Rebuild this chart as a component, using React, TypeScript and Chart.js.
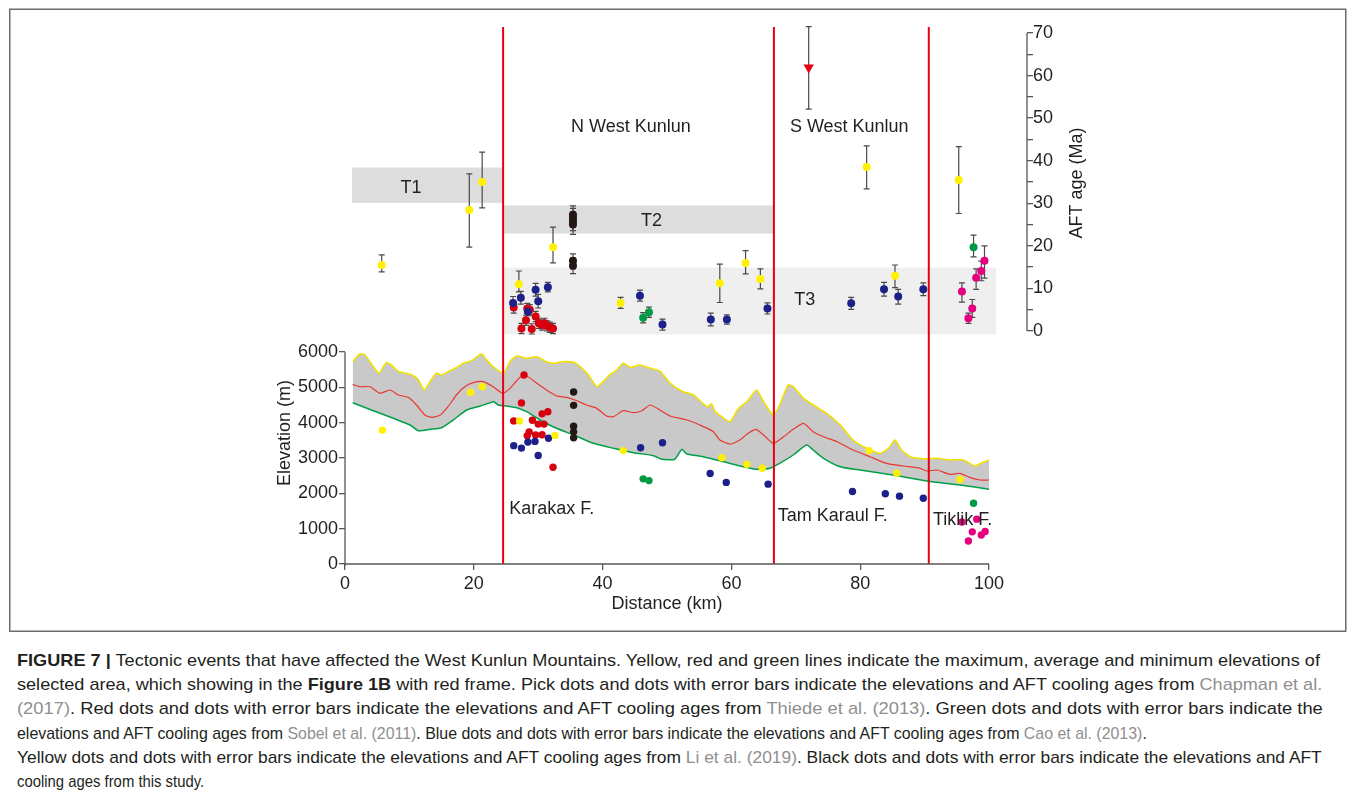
import React, { useEffect, useLayoutEffect, useRef } from 'react';
import { Chart, registerables } from 'chart.js';
Chart.register(...registerables);

const FONT = '"Liberation Sans", Arial, Helvetica, sans-serif';

// ---------- axis ticks ----------
const distanceTicks = [0, 20, 40, 60, 80, 100];
const elevationTicks = [0, 1000, 2000, 3000, 4000, 5000, 6000];
const ageTicks = [0, 5, 10, 15, 20, 25, 30, 35, 40, 45, 50, 55, 60, 65, 70];

// ---------- elevation profiles (km, m) ----------
const maxProfileKm = [1.2, 2.3, 3.1, 4.4, 5.3, 6.4, 7.2, 8.3, 9.1, 10.4, 11.4, 12.3, 13.2, 14.2, 15.0, 16.0, 17.1, 18.4, 19.7, 20.5, 21.2, 22.0, 23.0, 24.6, 25.6, 26.7, 28.2, 29.8, 31.3, 32.6, 33.6, 35.5, 36.5, 37.8, 39.1, 40.1, 41.1, 42.2, 43.2, 44.3, 45.8, 47.4, 48.9, 50.5, 52.5, 54.1, 56.2, 56.9, 57.5, 58.5, 59.8, 61.1, 62.4, 63.9, 65.0, 66.5, 67.5, 68.8, 69.6, 71.2, 72.7, 74.8, 76.9, 78.9, 81.0, 83.1, 84.4, 85.4, 86.4, 88.0, 90.3, 91.9, 93.9, 96.0, 97.8, 98.9, 100];
const maxProfileElev = [5725, 5943, 5915, 5584, 5397, 5697, 5632, 5443, 5415, 5350, 5208, 4925, 5160, 5397, 5350, 5443, 5538, 5680, 5755, 5867, 5943, 5773, 5584, 5397, 5725, 5886, 5820, 5867, 5725, 5680, 5725, 5708, 5584, 5350, 5018, 5160, 5350, 5490, 5680, 5566, 5632, 5538, 5460, 5113, 4877, 4783, 4452, 4528, 4310, 4169, 4027, 4405, 4593, 4925, 4593, 4217, 4500, 5066, 5018, 4689, 4500, 4264, 3934, 3509, 3274, 3132, 3274, 3509, 3226, 3019, 2972, 2991, 2943, 2943, 2773, 2867, 2943];

const meanProfileKm = [1.2, 2.3, 3.9, 5.4, 7.0, 8.3, 9.8, 11.1, 12.4, 13.5, 14.8, 16.0, 17.3, 18.6, 19.9, 21.5, 23.0, 24.5, 25.6, 27.2, 28.2, 29.8, 31.3, 32.9, 34.4, 36.0, 37.5, 39.1, 40.6, 41.7, 43.2, 44.8, 46.1, 47.4, 48.9, 50.5, 53.1, 55.1, 57.2, 58.2, 59.8, 61.3, 62.6, 63.8, 65.0, 66.5, 68.1, 69.6, 71.2, 72.7, 74.3, 76.4, 78.9, 81.5, 84.1, 86.7, 89.3, 90.3, 91.9, 93.9, 95.5, 97.0, 98.6, 100];
const meanProfileElev = [5085, 5018, 5018, 4830, 4925, 4783, 4717, 4500, 4217, 4151, 4217, 4452, 4783, 5018, 5131, 5160, 5018, 4830, 4972, 5283, 5320, 5113, 4925, 4754, 4717, 4622, 4500, 4405, 4188, 4169, 4339, 4282, 4339, 4500, 4358, 4188, 4075, 3934, 3745, 3509, 3396, 3509, 3698, 3811, 3651, 3415, 3603, 3811, 3981, 3745, 3603, 3462, 3226, 3037, 2849, 2773, 2708, 2632, 2660, 2538, 2567, 2453, 2377, 2377];

const minProfileKm = [1.2, 4.4, 7.5, 10.1, 11.4, 13.2, 15.0, 16.8, 18.9, 21.0, 22.3, 23.1, 23.8, 25.1, 26.7, 28.2, 30.3, 32.3, 35.5, 38.6, 41.7, 44.8, 47.9, 49.2, 51.2, 52.3, 53.1, 55.6, 58.2, 61.3, 63.9, 66.0, 67.5, 69.6, 71.7, 72.7, 74.3, 76.9, 80.0, 85.1, 90.3, 95.5, 100];
const minProfileElev = [4565, 4339, 4123, 3934, 3773, 3811, 3858, 4075, 4358, 4471, 4548, 4593, 4500, 4471, 4423, 4310, 4075, 3886, 3651, 3415, 3274, 3150, 3065, 2963, 2963, 3245, 3113, 3037, 2924, 2773, 2679, 2708, 2849, 3085, 3368, 3226, 2991, 2754, 2660, 2519, 2349, 2236, 2114];

// ---------- AFT ages: [km, age, lower, upper] (Ma) ----------
const liAges = [[5.7, 15.5, 13.9, 17.9], [19.3, 28.4, 19.7, 36.9], [21.3, 35.0, 28.9, 42.0], [32.3, 19.7, 16.0, 24.4], [27.0, 11.0, 9.2, 14.1], [42.8, 6.6, 5.3, 7.9], [58.2, 11.2, 6.7, 15.7], [62.2, 16.0, 13.4, 18.9], [64.5, 12.2, 9.9, 14.6], [85.4, 13.0, 10.2, 15.5], [81.0, 38.5, 33.4, 43.5], [95.3, 35.5, 27.6, 43.3]];
const caoAges = [[28.4, 4.6, 3.6, 5.6], [27.3, 7.8, 6.3, 9.3], [26.1, 6.6, 5.1, 8.1], [29.6, 9.7, 8.2, 11.2], [30.0, 7.0, 5.4, 8.6], [31.5, 10.3, 9.2, 11.4], [45.8, 8.3, 7.0, 9.6], [49.3, 1.5, 0.2, 2.8], [56.8, 2.7, 1.2, 4.2], [59.3, 2.7, 1.6, 3.8], [65.6, 5.3, 4.0, 6.6], [78.6, 6.5, 5.1, 7.9], [83.7, 9.8, 8.2, 11.4], [85.9, 8.1, 6.3, 9.8], [89.8, 9.8, 8.3, 11.3]];
const thiedeAges = [[26.2, 5.5, 4.2, 6.8], [28.3, 5.3, 4.1, 6.5], [28.7, 5.0, 3.8, 6.2], [29.6, 3.4, 2.2, 4.6], [28.1, 2.5, 1.3, 3.7], [27.4, 0.6, -0.6, 1.8], [29.0, 0.5, -0.7, 1.7], [30.1, 1.8, 0.6, 3.0], [30.6, 1.4, 0.2, 2.6], [31.0, 1.8, 0.6, 3.0], [31.4, 1.2, 0.0, 2.4], [31.8, 0.9, -0.3, 2.1], [32.3, 0.6, -0.6, 1.8]];
const thiedeTriangleAges = [[72.0, 61.9, 52.1, 71.5]];
const sobelAges = [[47.2, 4.4, 3.2, 5.6], [46.3, 3.1, 1.9, 4.3], [97.6, 19.7, 17.4, 22.5]];
const chapmanAges = [[95.8, 9.3, 6.8, 11.3], [96.8, 3.0, 1.8, 4.2], [97.4, 5.3, 3.2, 7.4], [98.0, 12.5, 9.8, 14.6], [98.8, 14.1, 11.8, 16.4], [99.3, 16.5, 12.4, 20.0]];
const thisStudyAges = [[35.4, 27.3, 25.1, 29.4], [35.4, 26.6, 24.4, 28.8], [35.4, 25.8, 23.6, 28.0], [35.4, 25.0, 22.7, 27.2], [35.4, 16.5, 14.6, 18.1], [35.4, 15.3, 13.5, 17.2]];

// ---------- sample elevations: [km, m] ----------
const liElev = [[5.8, 3790], [19.5, 4860], [21.3, 5020], [27.1, 4050], [32.6, 3640], [43.2, 3210], [58.5, 3010], [62.4, 2820], [64.8, 2710], [81.4, 3210], [85.7, 2570], [95.5, 2390]];
const thiedeElev = [[27.8, 5350], [27.4, 4560], [26.2, 4050], [29.1, 4070], [30.0, 3960], [30.9, 3960], [30.6, 4250], [31.5, 4310], [28.6, 3740], [28.3, 3630], [29.6, 3650], [30.6, 3660], [32.3, 2740]];
const caoElev = [[31.6, 3560], [29.5, 3470], [28.4, 3450], [26.2, 3350], [27.4, 3280], [30.0, 3070], [45.9, 3290], [49.3, 3430], [56.7, 2560], [59.2, 2310], [65.7, 2260], [78.8, 2050], [83.9, 1990], [86.1, 1920], [89.8, 1860]];
const sobelElev = [[46.3, 2410], [47.2, 2360], [97.6, 1720]];
const chapmanElev = [[95.8, 1190], [98.1, 1270], [97.4, 910], [96.8, 650], [98.8, 820], [99.4, 920]];
const thisStudyElev = [[35.5, 4870], [35.5, 4490], [35.5, 3900], [35.5, 3740], [35.5, 3570]];

// ---------- faults and time bands ----------
const faultKm = [24.55, 66.6, 90.65];
const bandNames = ['T1', 'T2', 'T3'];
const bandKmFrom = [1.1, 24.55, 24.55];
const bandKmTo = [24.55, 66.6, 101.1];
const bandAgeFrom = [30.1, 22.9, -0.8];
const bandAgeTo = [38.4, 29.5, 14.9];

// ---------- colours ----------
const C_YELLOW = '#fff100';
const C_RED = '#d7000f';
const C_BLUE = '#1d2088';
const C_GREEN = '#009944';
const C_PINK = '#e4007f';
const C_BLACK = '#231815';
const C_TEXT = '#231f20';
const C_AXIS = '#595757';
const C_FAULT = '#e60012';

// ---------- text annotations (placed through scales) ----------
const notes = [
  { text: 'N West Kunlun', x: 44.4, y: 48.0, axis: 'yA', align: 'center' },
  { text: 'S West Kunlun', x: 78.3, y: 48.0, axis: 'yA', align: 'center' },
  { text: 'T1', x: 10.25, y: 33.5, axis: 'yA', align: 'center' },
  { text: 'T2', x: 47.6, y: 25.8, axis: 'yA', align: 'center' },
  { text: 'T3', x: 71.4, y: 7.3, axis: 'yA', align: 'center' },
  { text: 'Karakax F.', x: 25.5, y: 1560, axis: 'yE', align: 'left' },
  { text: 'Tam Karaul F.', x: 67.2, y: 1360, axis: 'yE', align: 'left' },
  { text: 'Tiklik F.', x: 91.3, y: 1245, axis: 'yE', align: 'left' },
];

const ageSet = (rows: number[][], color: string, extra: any = {}) => ({
  type: 'scatter',
  yAxisID: 'yA',
  data: rows.map((r) => ({ x: r[0], y: r[1], lo: r[2], hi: r[3] })),
  backgroundColor: color,
  borderColor: color,
  borderWidth: 0,
  pointRadius: 4,
  order: 0,
  ...extra,
});
const elevSet = (rows: number[][], color: string) => ({
  type: 'scatter',
  yAxisID: 'yE',
  data: rows.map((r) => ({ x: r[0], y: r[1] })),
  backgroundColor: color,
  borderColor: color,
  borderWidth: 0,
  pointRadius: 3.7,
  order: 0,
});
const profile = (km: number[], elev: number[]) => km.map((k, i) => ({ x: k, y: elev[i] }));

const figPlugin = {
  id: 'figPlugin',
  beforeDatasetsDraw(chart: any) {
    const { ctx, scales } = chart;
    const x = scales.x, yA = scales.yA;
    ctx.save();
    bandNames.forEach((_, i) => {
      ctx.fillStyle = i === 2 ? '#efefef' : '#dddddd';
      const x0 = x.getPixelForValue(bandKmFrom[i]);
      const x1 = x.getPixelForValue(bandKmTo[i]);
      const y0 = yA.getPixelForValue(bandAgeTo[i]);
      const y1 = yA.getPixelForValue(bandAgeFrom[i]);
      ctx.fillRect(x0, y0, x1 - x0, y1 - y0);
    });
    ctx.strokeStyle = '#4a4a4a';
    ctx.lineWidth = 1.2;
    chart.data.datasets.forEach((ds: any) => {
      if (ds.yAxisID !== 'yA') return;
      ds.data.forEach((p: any) => {
        if (p.lo == null) return;
        const px = x.getPixelForValue(p.x);
        const ylo = yA.getPixelForValue(p.lo);
        const yhi = yA.getPixelForValue(p.hi);
        ctx.beginPath();
        ctx.moveTo(px, ylo);
        ctx.lineTo(px, yhi);
        ctx.moveTo(px - 3, ylo);
        ctx.lineTo(px + 3, ylo);
        ctx.moveTo(px - 3, yhi);
        ctx.lineTo(px + 3, yhi);
        ctx.stroke();
      });
    });
    ctx.restore();
  },
  afterDatasetsDraw(chart: any) {
    const { ctx, scales, chartArea } = chart;
    const x = scales.x, yA = scales.yA, yE = scales.yE;
    ctx.save();
    ctx.strokeStyle = C_FAULT;
    ctx.lineWidth = 2;
    faultKm.forEach((k) => {
      const px = x.getPixelForValue(k);
      ctx.beginPath();
      ctx.moveTo(px, chartArea.top);
      ctx.lineTo(px, yE.getPixelForValue(0));
      ctx.stroke();
    });
    ctx.strokeStyle = C_AXIS;
    ctx.lineWidth = 1.3;
    const x0 = x.getPixelForValue(0);
    const x100 = x.getPixelForValue(100);
    const e0 = yE.getPixelForValue(0);
    ctx.beginPath();
    ctx.moveTo(x0, e0);
    ctx.lineTo(x100, e0);
    ctx.moveTo(x0, e0 + 2);
    ctx.lineTo(x0, yE.getPixelForValue(6000));
    ctx.moveTo(chartArea.right, yA.getPixelForValue(0));
    ctx.lineTo(chartArea.right, yA.getPixelForValue(70));
    ctx.stroke();
    ctx.fillStyle = C_TEXT;
    ctx.font = `18px ${FONT}`;
    ctx.textBaseline = 'middle';
    notes.forEach((n) => {
      ctx.textAlign = n.align;
      const sc = n.axis === 'yA' ? yA : yE;
      ctx.fillText(n.text, x.getPixelForValue(n.x), sc.getPixelForValue(n.y));
    });
    ctx.textAlign = 'center';
    ctx.fillText('Distance (km)', (x0 + x100) / 2, chartArea.bottom + 40);
    ctx.save();
    ctx.translate(277, 425);
    ctx.rotate(-Math.PI / 2);
    ctx.fillText('Elevation (m)', 0, 0);
    ctx.restore();
    ctx.save();
    ctx.translate(1069, 175);
    ctx.rotate(-Math.PI / 2);
    ctx.fillText('AFT age (Ma)', 0, 0);
    ctx.restore();
    ctx.restore();
  },
  afterDraw(chart: any) {
    const { ctx } = chart;
    ctx.save();
    ctx.strokeStyle = '#6b6b6b';
    ctx.lineWidth = 1.5;
    ctx.strokeRect(1.75, 1.25, 1336, 622);
    ctx.restore();
  },
};

const tickFont = { family: FONT, size: 18 };

function buildConfig(): any {
  const datasets: any[] = [
    ageSet(thiedeTriangleAges, C_FAULT, { pointStyle: 'triangle', rotation: 180, pointRadius: 6 }),
    ageSet(thisStudyAges, C_BLACK),
    ageSet(liAges, C_YELLOW),
    ageSet(caoAges, C_BLUE),
    ageSet(thiedeAges, C_RED),
    ageSet(sobelAges, C_GREEN),
    ageSet(chapmanAges, C_PINK),
    elevSet(thisStudyElev, C_BLACK),
    elevSet(liElev, C_YELLOW),
    elevSet(caoElev, C_BLUE),
    elevSet(thiedeElev, C_RED),
    elevSet(sobelElev, C_GREEN),
    elevSet(chapmanElev, C_PINK),
  ];
  const maxIndex = datasets.length;
  const minIndex = maxIndex + 2;
  datasets.push(
    { type: 'line', yAxisID: 'yE', data: profile(maxProfileKm, maxProfileElev), borderColor: '#f2e100', borderWidth: 1.6, pointRadius: 0, tension: 0.2, fill: { target: minIndex }, backgroundColor: '#c9c9c9', order: 10 },
    { type: 'line', yAxisID: 'yE', data: profile(meanProfileKm, meanProfileElev), borderColor: '#e8382f', borderWidth: 1.2, pointRadius: 0, tension: 0.2, fill: false, order: 5 },
    { type: 'line', yAxisID: 'yE', data: profile(minProfileKm, minProfileElev), borderColor: '#00a04a', borderWidth: 1.5, pointRadius: 0, tension: 0.2, fill: false, order: 5 },
  );
  return {
    type: 'scatter',
    data: { datasets },
    plugins: [figPlugin],
    options: {
      responsive: false,
      animation: false,
      events: [],
      layout: { padding: { left: 277, right: 260, top: 19, bottom: 31 } },
      plugins: { legend: { display: false }, tooltip: { enabled: false } },
      scales: {
        x: {
          type: 'linear',
          position: 'bottom',
          min: 0,
          max: 105.9,
          afterBuildTicks: (s: any) => { s.ticks = distanceTicks.map((v) => ({ value: v })); },
          afterFit: (s: any) => { s.height = 45; },
          grid: { drawOnChartArea: false, drawTicks: true, tickLength: 6, color: C_AXIS, lineWidth: 1.3 },
          border: { display: false },
          ticks: { font: tickFont, color: C_TEXT, padding: 3, maxRotation: 0, autoSkip: false, callback: (v: any) => String(v) },
        },
        yE: {
          type: 'linear',
          position: 'left',
          min: 0,
          max: 15198,
          afterBuildTicks: (s: any) => { s.ticks = elevationTicks.map((v) => ({ value: v })); },
          afterFit: (s: any) => { s.width = 60; },
          grid: { drawOnChartArea: false, drawTicks: true, tickLength: 6, color: C_AXIS, lineWidth: 1.3 },
          border: { display: false },
          ticks: { font: tickFont, color: C_TEXT, padding: 1, autoSkip: false, callback: (v: any) => String(v) },
        },
        yA: {
          type: 'linear',
          position: 'right',
          min: -54.73,
          max: 71.41,
          afterBuildTicks: (s: any) => { s.ticks = ageTicks.map((v) => ({ value: v })); },
          afterFit: (s: any) => { s.width = 60; },
          grid: { drawOnChartArea: false, drawTicks: true, tickLength: 6, color: C_AXIS, lineWidth: 1.3 },
          border: { display: false },
          ticks: { font: tickFont, color: C_TEXT, padding: 0, autoSkip: false, callback: (v: any) => (v % 10 === 0 ? String(v) : '') },
        },
      },
    },
  };
}

// ---------- caption ----------
type Seg = [string, string];
const captionLines: Seg[][] = [
  [['FIGURE 7 |', 'b'], [' Tectonic events that have affected the West Kunlun Mountains. Yellow, red and green lines indicate the maximum, average and minimum elevations of', '']],
  [['selected area, which showing in the ', ''], ['Figure 1B', 'b'], [' with red frame. Pick dots and dots with error bars indicate the elevations and AFT cooling ages from ', ''], ['Chapman et al.', 'g']],
  [['(2017)', 'g'], ['. Red dots and dots with error bars indicate the elevations and AFT cooling ages from ', ''], ['Thiede et al. (2013)', 'g'], ['. Green dots and dots with error bars indicate the', '']],
  [['elevations and AFT cooling ages from ', ''], ['Sobel et al. (2011)', 'g'], ['. Blue dots and dots with error bars indicate the elevations and AFT cooling ages from ', ''], ['Cao et al. (2013)', 'g'], ['.', '']],
  [['Yellow dots and dots with error bars indicate the elevations and AFT cooling ages from ', ''], ['Li et al. (2019)', 'g'], ['. Black dots and dots with error bars indicate the elevations and AFT', '']],
  [['cooling ages from this study.', '']],
];
const captionWidths = [1303, 1305, 1306, 1130, 1305, 187];

function Caption() {
  const refs = useRef<(HTMLDivElement | null)[]>([]);
  useLayoutEffect(() => {
    const fit = () => {
      refs.current.forEach((el, i) => {
        if (!el) return;
        const w = el.offsetWidth;
        if (w > 0) el.style.transform = `scaleX(${captionWidths[i] / w})`;
      });
    };
    fit();
    const f: any = (document as any).fonts;
    if (f && f.ready) f.ready.then(fit);
  }, []);
  return (
    <>
      {captionLines.map((line, i) => (
        <div
          key={i}
          ref={(el) => { refs.current[i] = el; }}
          style={{
            position: 'absolute',
            left: 9,
            top: 641 + i * 24.2,
            whiteSpace: 'nowrap',
            transformOrigin: '0 0',
            fontFamily: FONT,
            fontSize: 17,
            lineHeight: '24.2px',
            color: C_TEXT,
          }}
        >
          {line.map((s, j) => (
            <span key={j} style={{ fontWeight: s[1] === 'b' ? 700 : 400, color: s[1] === 'g' ? '#8f8f8f' : C_TEXT }}>{s[0]}</span>
          ))}
        </div>
      ))}
    </>
  );
}

export default function App() {
  const canvasRef = useRef<HTMLCanvasElement>(null);
  useEffect(() => {
    if (!canvasRef.current) return;
    const chart = new Chart(canvasRef.current, buildConfig());
    return () => chart.destroy();
  }, []);
  return (
    <div style={{ position: 'relative', width: 1339, height: 786 }}>
      <canvas ref={canvasRef} width={1339} height={632} style={{ position: 'absolute', left: 0, top: 0, width: 1339, height: 632 }} />
      <Caption />
    </div>
  );
}
